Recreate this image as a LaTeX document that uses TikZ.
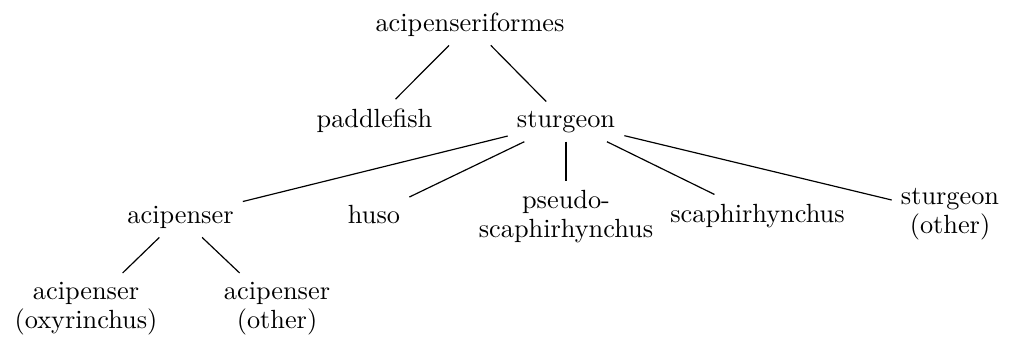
\documentclass[tikz,border=0pt]{standalone}
\begin{document}
\begin{tikzpicture}[x=0.38023pt,y=-0.38023pt,
  taxon/.style={anchor=base,align=center,font=\fontsize{10}{10.8}\selectfont},
  link/.style={line width=0.45pt}]
\useasboundingbox (0,0) rectangle (1016,339);
\node[taxon] (root) at (470,31) {acipenseriformes};
\node[taxon] (paddle) at (374.5,127) {paddlefish};
\node[taxon] (sturg) at (566,127) {sturgeon};
\node[taxon] (acip) at (180.5,223) {acipenser};
\node[taxon] (huso) at (374,223) {huso};
\node[taxon] (pseudo) at (566,237) {pseudo-\\scaphirhynchus};
\node[taxon] (scaph) at (757.5,222) {scaphirhynchus};
\node[taxon] (sother) at (950,233) {sturgeon\\(other)};
\node[taxon] (oxy) at (86,328) {acipenser\\(oxyrinchus)};
\node[taxon] (aother) at (277,328) {acipenser\\(other)};
\draw[link] (root) -- (paddle);
\draw[link] (root) -- (sturg);
\draw[link] (sturg) -- (acip);
\draw[link] (sturg) -- (huso);
\draw[link] (sturg) -- (pseudo);
\draw[link] (sturg) -- (scaph);
\draw[link] (sturg) -- (sother);
\draw[link] (acip) -- (oxy);
\draw[link] (acip) -- (aother);
\end{tikzpicture}
\end{document}
